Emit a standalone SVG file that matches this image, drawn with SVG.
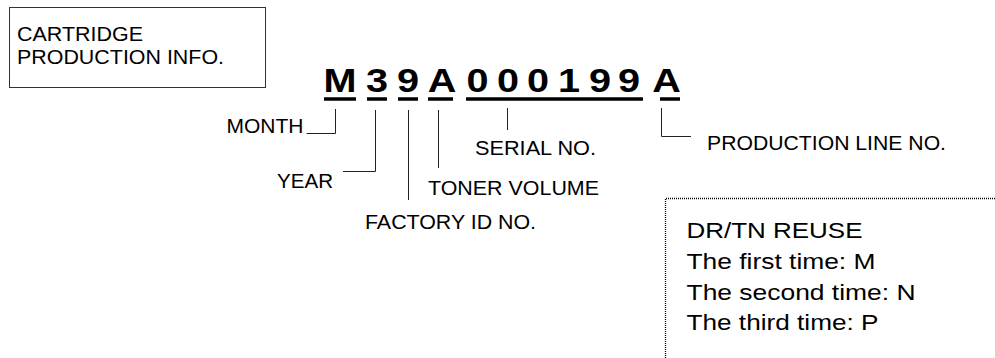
<svg xmlns="http://www.w3.org/2000/svg" width="995" height="358" viewBox="0 0 995 358">
<style>
.lbl{font-family:"Liberation Sans",Arial,sans-serif;font-size:21px;fill:#000}
.box{font-family:"Liberation Sans",Arial,sans-serif;font-size:22.5px;fill:#000}
.big{font-family:"Liberation Sans",Arial,sans-serif;font-size:33px;font-weight:bold;fill:#000}
.ln{stroke:#222;stroke-width:1;fill:none}
.ul{stroke:#000;stroke-width:3.5}
</style>
<rect width="995" height="358" fill="#fff"/>
<g id="info-box">
<rect x="9.5" y="7.5" width="256" height="80" fill="none" stroke="#333" stroke-width="1"/>
<text class="lbl" x="17" y="41" textLength="126" lengthAdjust="spacingAndGlyphs">CARTRIDGE</text>
<text class="lbl" x="17" y="64" textLength="207" lengthAdjust="spacingAndGlyphs">PRODUCTION INFO.</text>
</g>
<g id="code">
<g transform="scale(1.2,1)">
<text class="big" y="92" text-anchor="middle" x="283.3 314.2 340 368.3 397.9 423.3 448.3 474.2 500 524.2 555.4">M39A000199A</text>
</g>
<line class="ul" x1="324" y1="99" x2="356" y2="99"/>
<line class="ul" x1="367" y1="99" x2="387" y2="99"/>
<line class="ul" x1="398" y1="99" x2="418" y2="99"/>
<line class="ul" x1="428" y1="99" x2="453" y2="99"/>
<line class="ul" x1="466" y1="99" x2="643" y2="99"/>
<line class="ul" x1="660" y1="99" x2="680" y2="99"/>
</g>
<g id="connectors">
<path class="ln" d="M306.5,133.5 H335.5 V109"/>
<path class="ln" d="M343,171.5 H375.5 V110"/>
<path class="ln" d="M408.5,110 V200"/>
<path class="ln" d="M438.5,110 V168"/>
<path class="ln" d="M507.5,108 V130"/>
<path class="ln" d="M661.5,108 V136.5 H691"/>
</g>
<g id="month"><text class="lbl" x="226.5" y="132.5" textLength="77" lengthAdjust="spacingAndGlyphs">MONTH</text></g>
<g id="year"><text class="lbl" x="277" y="187.5" textLength="56" lengthAdjust="spacingAndGlyphs">YEAR</text></g>
<g id="serial"><text class="lbl" x="475" y="154.5" textLength="121" lengthAdjust="spacingAndGlyphs">SERIAL NO.</text></g>
<g id="toner"><text class="lbl" x="428" y="195" textLength="171" lengthAdjust="spacingAndGlyphs">TONER VOLUME</text></g>
<g id="factory"><text class="lbl" x="365" y="228.5" textLength="171" lengthAdjust="spacingAndGlyphs">FACTORY ID NO.</text></g>
<g id="line-no"><text class="lbl" x="707" y="150" textLength="239" lengthAdjust="spacingAndGlyphs">PRODUCTION LINE NO.</text></g>
<g id="reuse-box">
<path d="M665.5,358 V198.5 H995" fill="none" stroke="#000" stroke-width="1.3" stroke-dasharray="1 1"/>
<text class="box" x="686.5" y="238" textLength="176" lengthAdjust="spacingAndGlyphs">DR/TN REUSE</text>
<text class="box" x="686.5" y="269" textLength="189" lengthAdjust="spacingAndGlyphs">The first time: M</text>
<text class="box" x="686.5" y="299.5" textLength="229" lengthAdjust="spacingAndGlyphs">The second time: N</text>
<text class="box" x="686.5" y="330" textLength="192" lengthAdjust="spacingAndGlyphs">The third time: P</text>
</g>
</svg>
